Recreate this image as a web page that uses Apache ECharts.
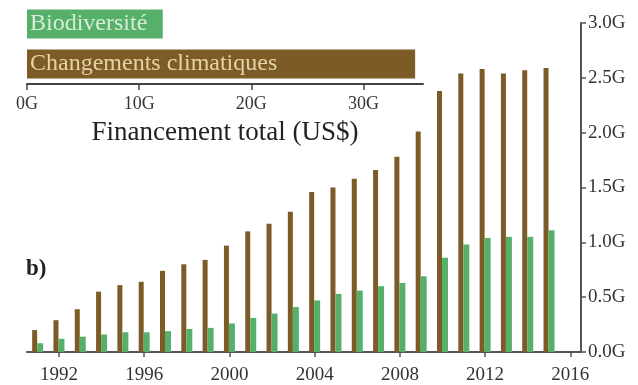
<!DOCTYPE html>
<html>
<head>
<meta charset="utf-8">
<script src="https://cdn.jsdelivr.net/npm/echarts@6/dist/echarts.min.js"></script>
<style>
html,body{margin:0;padding:0;background:#fff;}
#c{width:638px;height:385px;}
</style>
</head>
<body>
<div id="c"></div>
<script>
const years = ['1991','1992','1993','1994','1995','1996','1997','1998','1999','2000','2001','2002','2003','2004','2005','2006','2007','2008','2009','2010','2011','2012','2013','2014','2015','2016'];
const climateValues = [0.20,0.29,0.39,0.55,0.61,0.64,0.74,0.80,0.84,0.97,1.10,1.17,1.28,1.46,1.50,1.58,1.66,1.78,2.01,2.38,2.54,2.58,2.54,2.57,2.59,null];
const bioValues = [0.08,0.12,0.14,0.16,0.18,0.18,0.19,0.21,0.22,0.26,0.31,0.35,0.41,0.47,0.53,0.56,0.60,0.63,0.69,0.86,0.98,1.04,1.05,1.05,1.11,null];
const totalCategories = ['Biodiversité','Changements climatiques'];
const totalValues = [12.1, 34.6];
const totalTicks = [0,10,20,30];

const BROWN = '#7d5b27';
const GREEN = '#56b06a';
const FONT = 'Liberation Serif';
const AX = '#555';

const chart = echarts.init(document.getElementById('c'), null, {renderer:'canvas'});
const showYear = (i) => (i - 1) % 4 === 0;
chart.setOption({
  animation:false,
  backgroundColor:'#fff',
  textStyle:{fontFamily:FONT},
  grid:[
    {left:27, right:57, top:23, bottom:31},
    {left:27, width:396, top:4, height:80}
  ],
  xAxis:[
    {gridIndex:0, type:'category', data:years, boundaryGap:true,
     axisLine:{show:true, lineStyle:{color:AX, width:2}},
     axisTick:{show:true, interval:(i)=>showYear(i), alignWithLabel:true, length:5, lineStyle:{color:AX, width:1.5}},
     axisLabel:{interval:(i)=>showYear(i), color:'#333', fontFamily:FONT, fontSize:19, margin:14}
    },
    {gridIndex:1, type:'value', min:0, max:35.3, position:'bottom',
     splitLine:{show:false},
     axisLine:{show:true, lineStyle:{color:'#444', width:2}},
     axisTick:{show:true, customValues:totalTicks, length:6, lineStyle:{color:'#444', width:1.5}},
     axisLabel:{customValues:totalTicks, formatter:(v)=>v+'G', color:'#333', fontFamily:FONT, fontSize:18, margin:11},
     name:'Financement total (US$)', nameLocation:'middle', nameGap:35,
     nameTextStyle:{color:'#222', fontFamily:FONT, fontSize:27}
    }
  ],
  yAxis:[
    {gridIndex:0, type:'value', position:'right', min:0, max:3, interval:0.5,
     splitLine:{show:false},
     axisLine:{show:true, lineStyle:{color:AX, width:2}},
     axisTick:{show:true, inside:false, length:5, lineStyle:{color:AX, width:1.5}},
     axisLabel:{formatter:(v)=>v.toFixed(1)+'G', color:'#333', fontFamily:FONT, fontSize:19, margin:7}
    },
    {gridIndex:1, type:'category', data:totalCategories, inverse:true, show:false}
  ],
  series:[
    {type:'bar', xAxisIndex:0, yAxisIndex:0, data:climateValues, barWidth:5, barGap:'0%',
     itemStyle:{color:BROWN}},
    {type:'bar', xAxisIndex:0, yAxisIndex:0, data:bioValues, barWidth:6, barGap:'0%',
     itemStyle:{color:GREEN}},
    {type:'bar', xAxisIndex:1, yAxisIndex:1, barWidth:29,
     data: totalValues.map((v,i)=>({value:v,
        itemStyle:{color: i===0 ? GREEN : BROWN},
        label:{show:true, position:'insideLeft', distance:3, formatter: totalCategories[i],
               color: i===0 ? '#d6ecd9' : '#e4d4a8', fontFamily:FONT, fontSize: 24}}))
    }
  ],
  graphic:[
    {type:'text', left:26, top:258, style:{text:'b)', font:'bold 23px "Liberation Serif"', fill:'#222'}}
  ]
});
</script>
</body>
</html>
